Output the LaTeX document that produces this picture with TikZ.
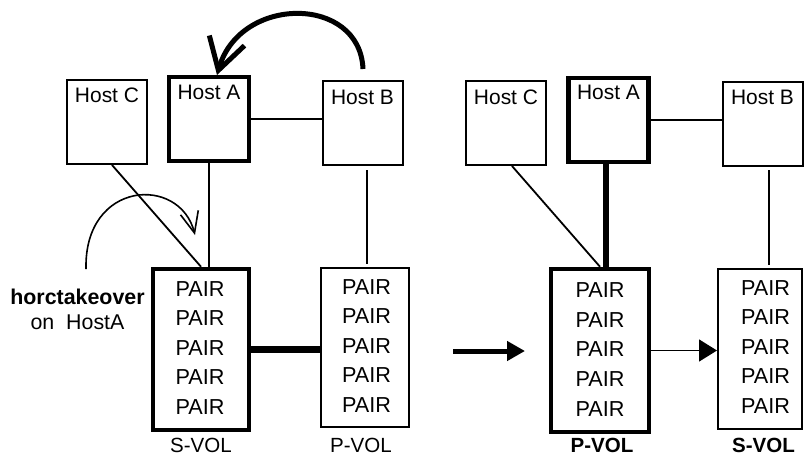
\documentclass[tikz,border=0pt]{standalone}
\usepackage{fontspec}
\setmainfont{Liberation Sans}
\usetikzlibrary{arrows.meta,calc}
\newlength\px
\setlength\px{0.025cm}
\begin{document}
\begin{tikzpicture}[x=0.025cm, y=-0.025cm,
  host/.style={draw, line width=2\px, minimum width=80\px, minimum height=84\px, inner sep=0pt},
  hostmain/.style={host, line width=4.5\px},
  vol/.style={draw, line width=2\px, inner sep=0pt},
  volmain/.style={vol, line width=4.5\px},
  txt/.style={inner sep=0pt, font=\fontsize{14.6}{17}\selectfont},
  hosttxt/.style={inner sep=0pt, font=\fontsize{14.9}{17}\selectfont},
  pairs/.style={inner sep=0pt, align=center, font=\fontsize{15.4}{21}\selectfont},
  wire/.style={line width=1.8\px},
  fat/.style={line width=6.5\px}]
\useasboundingbox (0,0) rectangle (804,455);
% linke Seite: vor horctakeover
\node[host]     (hC) at (107,122)   {};
\node[hostmain] (hA) at (209,119)   {};
\node[host]     (hB) at (362.5,123) {};
\node[hosttxt] (tHC) at ($(hC.north)+(0,16)$)   {Host C};
\node[hosttxt] (tHA) at ($(hA.north)+(0,17.5)$) {Host A};
\node[hosttxt] (tHB) at ($(hB.north)+(0,17)$)   {Host B};
\node[volmain, minimum width=96\px, minimum height=161\px] (sv) at (201,349.5) {};
\node[vol,     minimum width=88\px, minimum height=159\px] (pv) at (365,347.5) {};
\node[pairs] (tSV) at (200,348)   {PAIR\\PAIR\\PAIR\\PAIR\\PAIR};
\node[pairs] (tPV) at (366.5,346) {PAIR\\PAIR\\PAIR\\PAIR\\PAIR};
\node[txt] (lSV) at (201,445) {S-VOL};
\node[txt] (lPV) at (361,445) {P-VOL};
\node[txt, align=center, font=\fontsize{15.2}{17.8}\selectfont] (cmd) at (77.5,309)
  {\textbf{horctakeover}\\on\ \ HostA};
\draw[wire] (hA.east) -- (hA.east -| hB.west);
\draw[wire] (hA.south) -- (hA.south |- sv.north);
\draw[wire] ([xshift=5\px]hC.south) -- (sv.north);
\draw[wire, shorten <=4\px, shorten >=3\px] ([xshift=4.5\px]hB.south) -- ([xshift=4.5\px]hB.south |- pv.north);
\draw[fat] (sv.east) -- (sv.east -| pv.west);
% Pfeile
\coordinate (k0) at (86,269);
\coordinate (k1) at (195,235);
\draw[line width=1.6\px, -{Straight Barb[length=15pt, width=13pt]}]
  (k0) .. controls (84,180) and (180,175) .. (k1);
\coordinate (b0) at (363,69);
\coordinate (b1) at (217,75);
\draw[line width=5\px, -{Straight Barb[length=22pt, width=26pt]}]
  (b0) .. controls (360,-5) and (240,-5) .. (b1);
\coordinate (go0) at (453,351);
\coordinate (go1) at (525,351);
\draw[line width=5\px, -{Triangle[length=12.8pt, width=13.5pt]}] (go0) -- (go1);
% rechte Seite: nach horctakeover
\node[host]     (hC2) at (506,123)   {};
\node[hostmain] (hA2) at (608.5,120) {};
\node[host]     (hB2) at (762.5,124) {};
\node[hosttxt] (tHC2) at ($(hC2.north)+(0,17)$) {Host C};
\node[hosttxt] (tHA2) at ($(hA2.north)+(0,17)$) {Host A};
\node[hosttxt] (tHB2) at ($(hB2.north)+(0,16)$) {Host B};
\node[volmain, minimum width=98\px, minimum height=163\px] (pv2) at (600,350.5) {};
\node[vol,     minimum width=84\px, minimum height=160\px] (sv2) at (760,349) {};
\node[pairs] (tPV2) at (600,349.5) {PAIR\\PAIR\\PAIR\\PAIR\\PAIR};
\node[pairs] (tSV2) at (765.5,347) {PAIR\\PAIR\\PAIR\\PAIR\\PAIR};
\node[txt, font=\fontsize{14.6}{17}\selectfont\bfseries] (lPV2) at (602,445)   {P-VOL};
\node[txt, font=\fontsize{14.6}{17}\selectfont\bfseries] (lSV2) at (763.5,445) {S-VOL};
\draw[wire] (hA2.east) -- (hA2.east -| hB2.west);
\draw[fat] ([xshift=-2.5\px]hA2.south) -- ([xshift=-2.5\px]hA2.south |- pv2.north);
\draw[wire] ([xshift=6\px]hC2.south) -- (pv2.north);
\draw[wire, shorten <=3\px, shorten >=3\px] ([xshift=6.5\px]hB2.south) -- ([xshift=6.5\px]hB2.south |- sv2.north);
\draw[wire, -{Triangle[length=12.8pt, width=15.6pt]}] (pv2.east) -- (pv2.east -| sv2.west);
\end{tikzpicture}
\end{document}
